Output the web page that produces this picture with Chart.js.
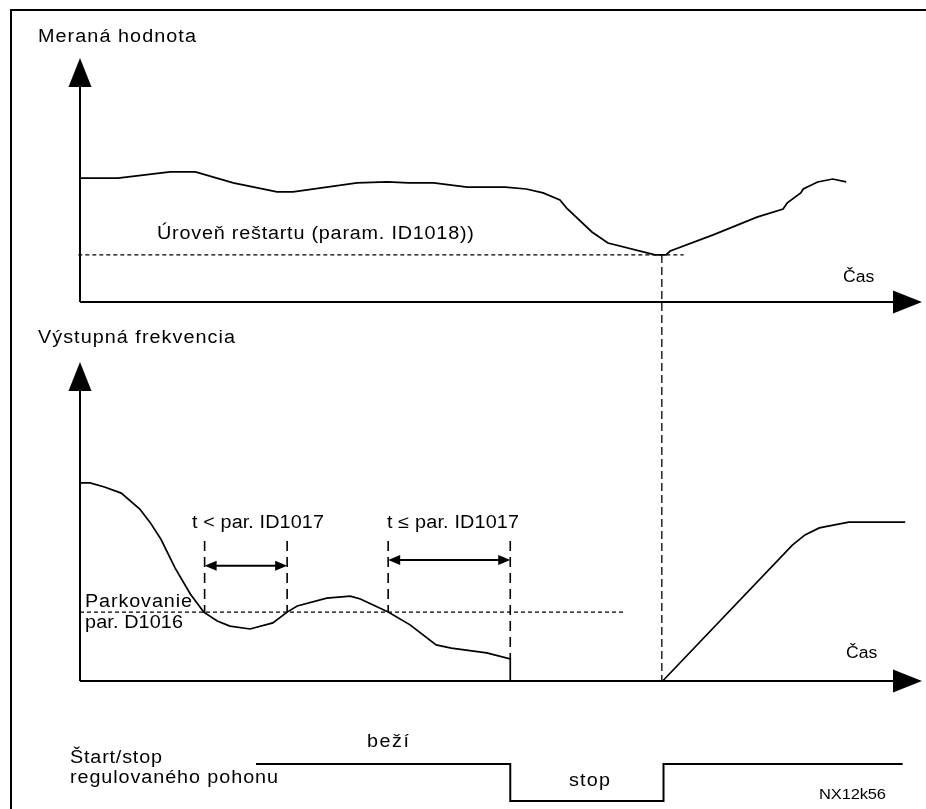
<!DOCTYPE html>
<html>
<head>
<meta charset="utf-8">
<script src="https://cdn.jsdelivr.net/npm/chart.js@4"></script>
<style>
  html, body { margin: 0; padding: 0; background: #fff; }
  #box { position: relative; width: 926px; height: 809px; }
</style>
</head>
<body>
<div id="box"><canvas id="graf"></canvas></div>
<script>
// cas = 0..100 (koniec osi), hodnoty = 0..100 (hrot osi y)

// Meraná hodnota
const casMerana = [0, 4.5, 10.7, 13.7, 18.2, 23.4, 25.3, 32.9, 36.5, 39.0, 42.0, 46.0, 50.5, 53.0, 55.0, 57.0, 57.8, 60.8, 62.7, 68.3, 69.6, 70.1, 75.2, 80.4, 83.5, 84.0, 85.6, 85.9, 87.6, 89.4, 91.0];
const meranaHodnota = [50.8, 50.8, 53.3, 53.3, 48.8, 45.1, 45.1, 48.8, 49.2, 48.8, 48.8, 47.1, 47.1, 46.3, 44.7, 41.8, 38.5, 28.7, 24.2, 19.3, 19.3, 20.9, 27.5, 34.8, 38.1, 40.6, 44.7, 46.3, 49.2, 50.4, 49.2];
const urovenRestartu = 19.3;
const restartOd = -0.2, restartDo = 71.7;
const casRestartu = 69.1;

// Výstupná frekvencia
const casFrekv = [0, 1.2, 2.9, 4.9, 7.1, 8.3, 9.6, 11.3, 13.1, 14.7, 16.3, 17.8, 20.2, 22.9, 24.6, 25.8, 29.3, 32.1, 33.3, 36.6, 39.2, 42.3, 44.1, 48.3, 51.1, 51.1, 69.2, 84.6, 86.1, 87.8, 91.3, 98.0];
const frekvencia = [62.1, 62.1, 60.8, 58.9, 53.9, 49.8, 44.5, 35.4, 27.3, 21.6, 18.8, 17.2, 16.3, 18.2, 21.6, 23.5, 26.0, 26.6, 25.7, 21.6, 17.6, 11.3, 10.3, 8.8, 6.9, 0, 0, 42.6, 45.8, 48.0, 49.8, 49.8];
const parkovanie = 21.6;
const parkovanieDo = 64.5;

// intervaly t vs. par. ID1017
const intervalZac = [14.8, 36.6];
const intervalKon = [24.6, 51.1];
const intervalSipka = [36.1, 37.9];
const intervalText = ['t < par. ID1017', 't \u2264 par. ID1017'];
const intervalHore = 43.9;

// Štart/stop regulovaného pohonu (1 = beží, 0 = stop)
const casChod = [20.9, 51.1, 69.3, 97.7];
const chod = [1, 0, 1, 1];

function body(xs, ys) {
  return xs.map((x, i) => ({ x: x, y: ys[i] }));
}

// y os na pasmo platna (vyska 809)
function pasmo(nulaPx, hrotPx, hrotHodnota) {
  const H = 809;
  const r = hrotHodnota / (nulaPx - hrotPx);
  const min = -(H - nulaPx) * r;
  return { min: min, max: min + H * r };
}

const FONT = '"Liberation Sans", Arial, Helvetica, sans-serif';
const ROZTIAH = 1.1;

function text(ctx, t, x, y, sirka, velkost) {
  ctx.save();
  ctx.font = (velkost || 18) + 'px ' + FONT;
  ctx.fillStyle = '#000';
  ctx.textBaseline = 'alphabetic';
  ctx.textAlign = 'left';
  ctx.translate(x, y);
  ctx.scale(ROZTIAH, 1);
  const w0 = ctx.measureText(t).width;
  const n = Array.from(t).length;
  if (sirka) {
    const ciel = sirka / ROZTIAH;
    if ('letterSpacing' in ctx && n > 1) {
      ctx.letterSpacing = ((ciel - w0) / (n - 1)).toFixed(2) + 'px';
    } else {
      ctx.scale(ciel / w0, 1);
    }
  }
  ctx.fillText(t, 0, 0);
  ctx.restore();
}

function trojuholnik(ctx, a, b, c) {
  ctx.beginPath();
  ctx.moveTo(a[0], a[1]);
  ctx.lineTo(b[0], b[1]);
  ctx.lineTo(c[0], c[1]);
  ctx.closePath();
  ctx.fill();
}

function osi(ctx, xs, ys) {
  const x0 = xs.getPixelForValue(0);
  const xK = xs.getPixelForValue(100);
  const y0 = ys.getPixelForValue(0);
  const yK = ys.getPixelForValue(100);
  ctx.lineWidth = 2;
  ctx.setLineDash([]);
  ctx.beginPath();
  ctx.moveTo(x0, y0);
  ctx.lineTo(x0, yK + 26);
  ctx.moveTo(x0, y0);
  ctx.lineTo(xK - 27, y0);
  ctx.stroke();
  trojuholnik(ctx, [x0, yK], [x0 - 11.5, yK + 29], [x0 + 11.5, yK + 29]);
  trojuholnik(ctx, [xK, y0], [xK - 29, y0 - 11.5], [xK - 29, y0 + 11.5]);
}

function dvojSipka(ctx, xa, xb, y) {
  ctx.setLineDash([]);
  ctx.lineWidth = 2;
  ctx.beginPath();
  ctx.moveTo(xa + 8, y);
  ctx.lineTo(xb - 8, y);
  ctx.stroke();
  trojuholnik(ctx, [xa, y], [xa + 12, y - 5], [xa + 12, y + 5]);
  trojuholnik(ctx, [xb, y], [xb - 12, y - 5], [xb - 12, y + 5]);
}

const schema = {
  id: 'schema',
  afterDraw(chart) {
    const ctx = chart.ctx;
    const xs = chart.scales.x;
    const yM = chart.scales.yMerana;
    const yF = chart.scales.yFrekv;
    ctx.save();
    ctx.strokeStyle = '#000';
    ctx.fillStyle = '#000';

    // ramcek
    ctx.lineWidth = 2;
    ctx.beginPath();
    ctx.moveTo(926, 10);
    ctx.lineTo(11, 10);
    ctx.lineTo(11, 809);
    ctx.stroke();

    osi(ctx, xs, yM);
    osi(ctx, xs, yF);

    // restart - zvisla ciara
    const xr = xs.getPixelForValue(casRestartu);
    ctx.lineWidth = 1.3;
    ctx.setLineDash([8, 4]);
    ctx.beginPath();
    ctx.moveTo(xr, yM.getPixelForValue(urovenRestartu));
    ctx.lineTo(xr, yF.getPixelForValue(0));
    ctx.stroke();

    // intervaly
    const yTop = yF.getPixelForValue(intervalHore);
    const posledny = intervalZac.length - 1;
    for (let i = 0; i < intervalZac.length; i++) {
      const xa = xs.getPixelForValue(intervalZac[i]);
      const xb = xs.getPixelForValue(intervalKon[i]);
      const dolA = yF.getPixelForValue(parkovanie);
      const dolB = i === posledny
        ? yF.getPixelForValue(frekvencia[casFrekv.indexOf(intervalKon[i])])
        : dolA;
      ctx.lineWidth = 1.6;
      ctx.setLineDash([10, 6]);
      ctx.beginPath();
      ctx.moveTo(xa, yTop);
      ctx.lineTo(xa, dolA);
      ctx.moveTo(xb, yTop);
      ctx.lineTo(xb, dolB);
      ctx.stroke();
      dvojSipka(ctx, xa, xb, yF.getPixelForValue(intervalSipka[i]));
    }
    ctx.restore();

    text(ctx, 'Meraná hodnota', 38, 42, 158);
    text(ctx, 'Čas', 843, 282, null, 16);
    text(ctx, 'Úroveň reštartu (param. ID1018))', 157, 239, 317);
    text(ctx, 'Výstupná frekvencia', 38, 343, 197);
    text(ctx, intervalText[0], 192, 528, 132);
    text(ctx, intervalText[1], 387, 528, 132);
    text(ctx, 'Parkovanie', 85, 607, 107);
    text(ctx, 'par. D1016', 85, 628, 98);
    text(ctx, 'Čas', 846, 658, null, 16);
    text(ctx, 'beží', 367, 747, 42);
    text(ctx, 'Štart/stop', 70, 763, 92);
    text(ctx, 'regulovaného pohonu', 70, 783, 208);
    text(ctx, 'stop', 569, 786, 41);
    text(ctx, 'NX12k56', 819, 799, 67, 15);
  }
};

const ctx = document.getElementById('graf');

new Chart(ctx, {
  type: 'line',
  data: {
    datasets: [
      {
        label: 'Meraná hodnota',
        data: body(casMerana, meranaHodnota),
        yAxisID: 'yMerana',
        borderColor: '#000',
        borderWidth: 1.7,
        tension: 0,
        clip: false
      },
      {
        label: 'Úroveň reštartu',
        data: body([restartOd, restartDo], [urovenRestartu, urovenRestartu]),
        yAxisID: 'yMerana',
        borderColor: '#000',
        borderWidth: 1.4,
        borderDash: [4, 3],
        clip: false
      },
      {
        label: 'Výstupná frekvencia',
        data: body(casFrekv, frekvencia),
        yAxisID: 'yFrekv',
        borderColor: '#000',
        borderWidth: 1.7,
        tension: 0,
        clip: false
      },
      {
        label: 'Parkovanie',
        data: body([0, parkovanieDo], [parkovanie, parkovanie]),
        yAxisID: 'yFrekv',
        borderColor: '#000',
        borderWidth: 1.4,
        borderDash: [4, 3],
        clip: false
      },
      {
        label: 'Štart/stop',
        data: body(casChod, chod),
        yAxisID: 'yChod',
        stepped: true,
        borderColor: '#000',
        borderWidth: 2,
        clip: false
      }
    ]
  },
  options: {
    responsive: true,
    maintainAspectRatio: false,
    animation: false,
    events: [],
    layout: { padding: { left: 80, right: 4, top: 0, bottom: 0 } },
    elements: { point: { radius: 0 } },
    plugins: { legend: { display: false }, tooltip: { enabled: false } },
    scales: {
      x: { type: 'linear', min: 0, max: 100, display: false },
      yMerana: Object.assign({ type: 'linear', display: false }, pasmo(302, 58, 100)),
      yFrekv: Object.assign({ type: 'linear', display: false }, pasmo(681, 362, 100)),
      yChod: Object.assign({ type: 'linear', display: false }, pasmo(801, 764, 1))
    }
  },
  plugins: [schema]
});
</script>
</body>
</html>
